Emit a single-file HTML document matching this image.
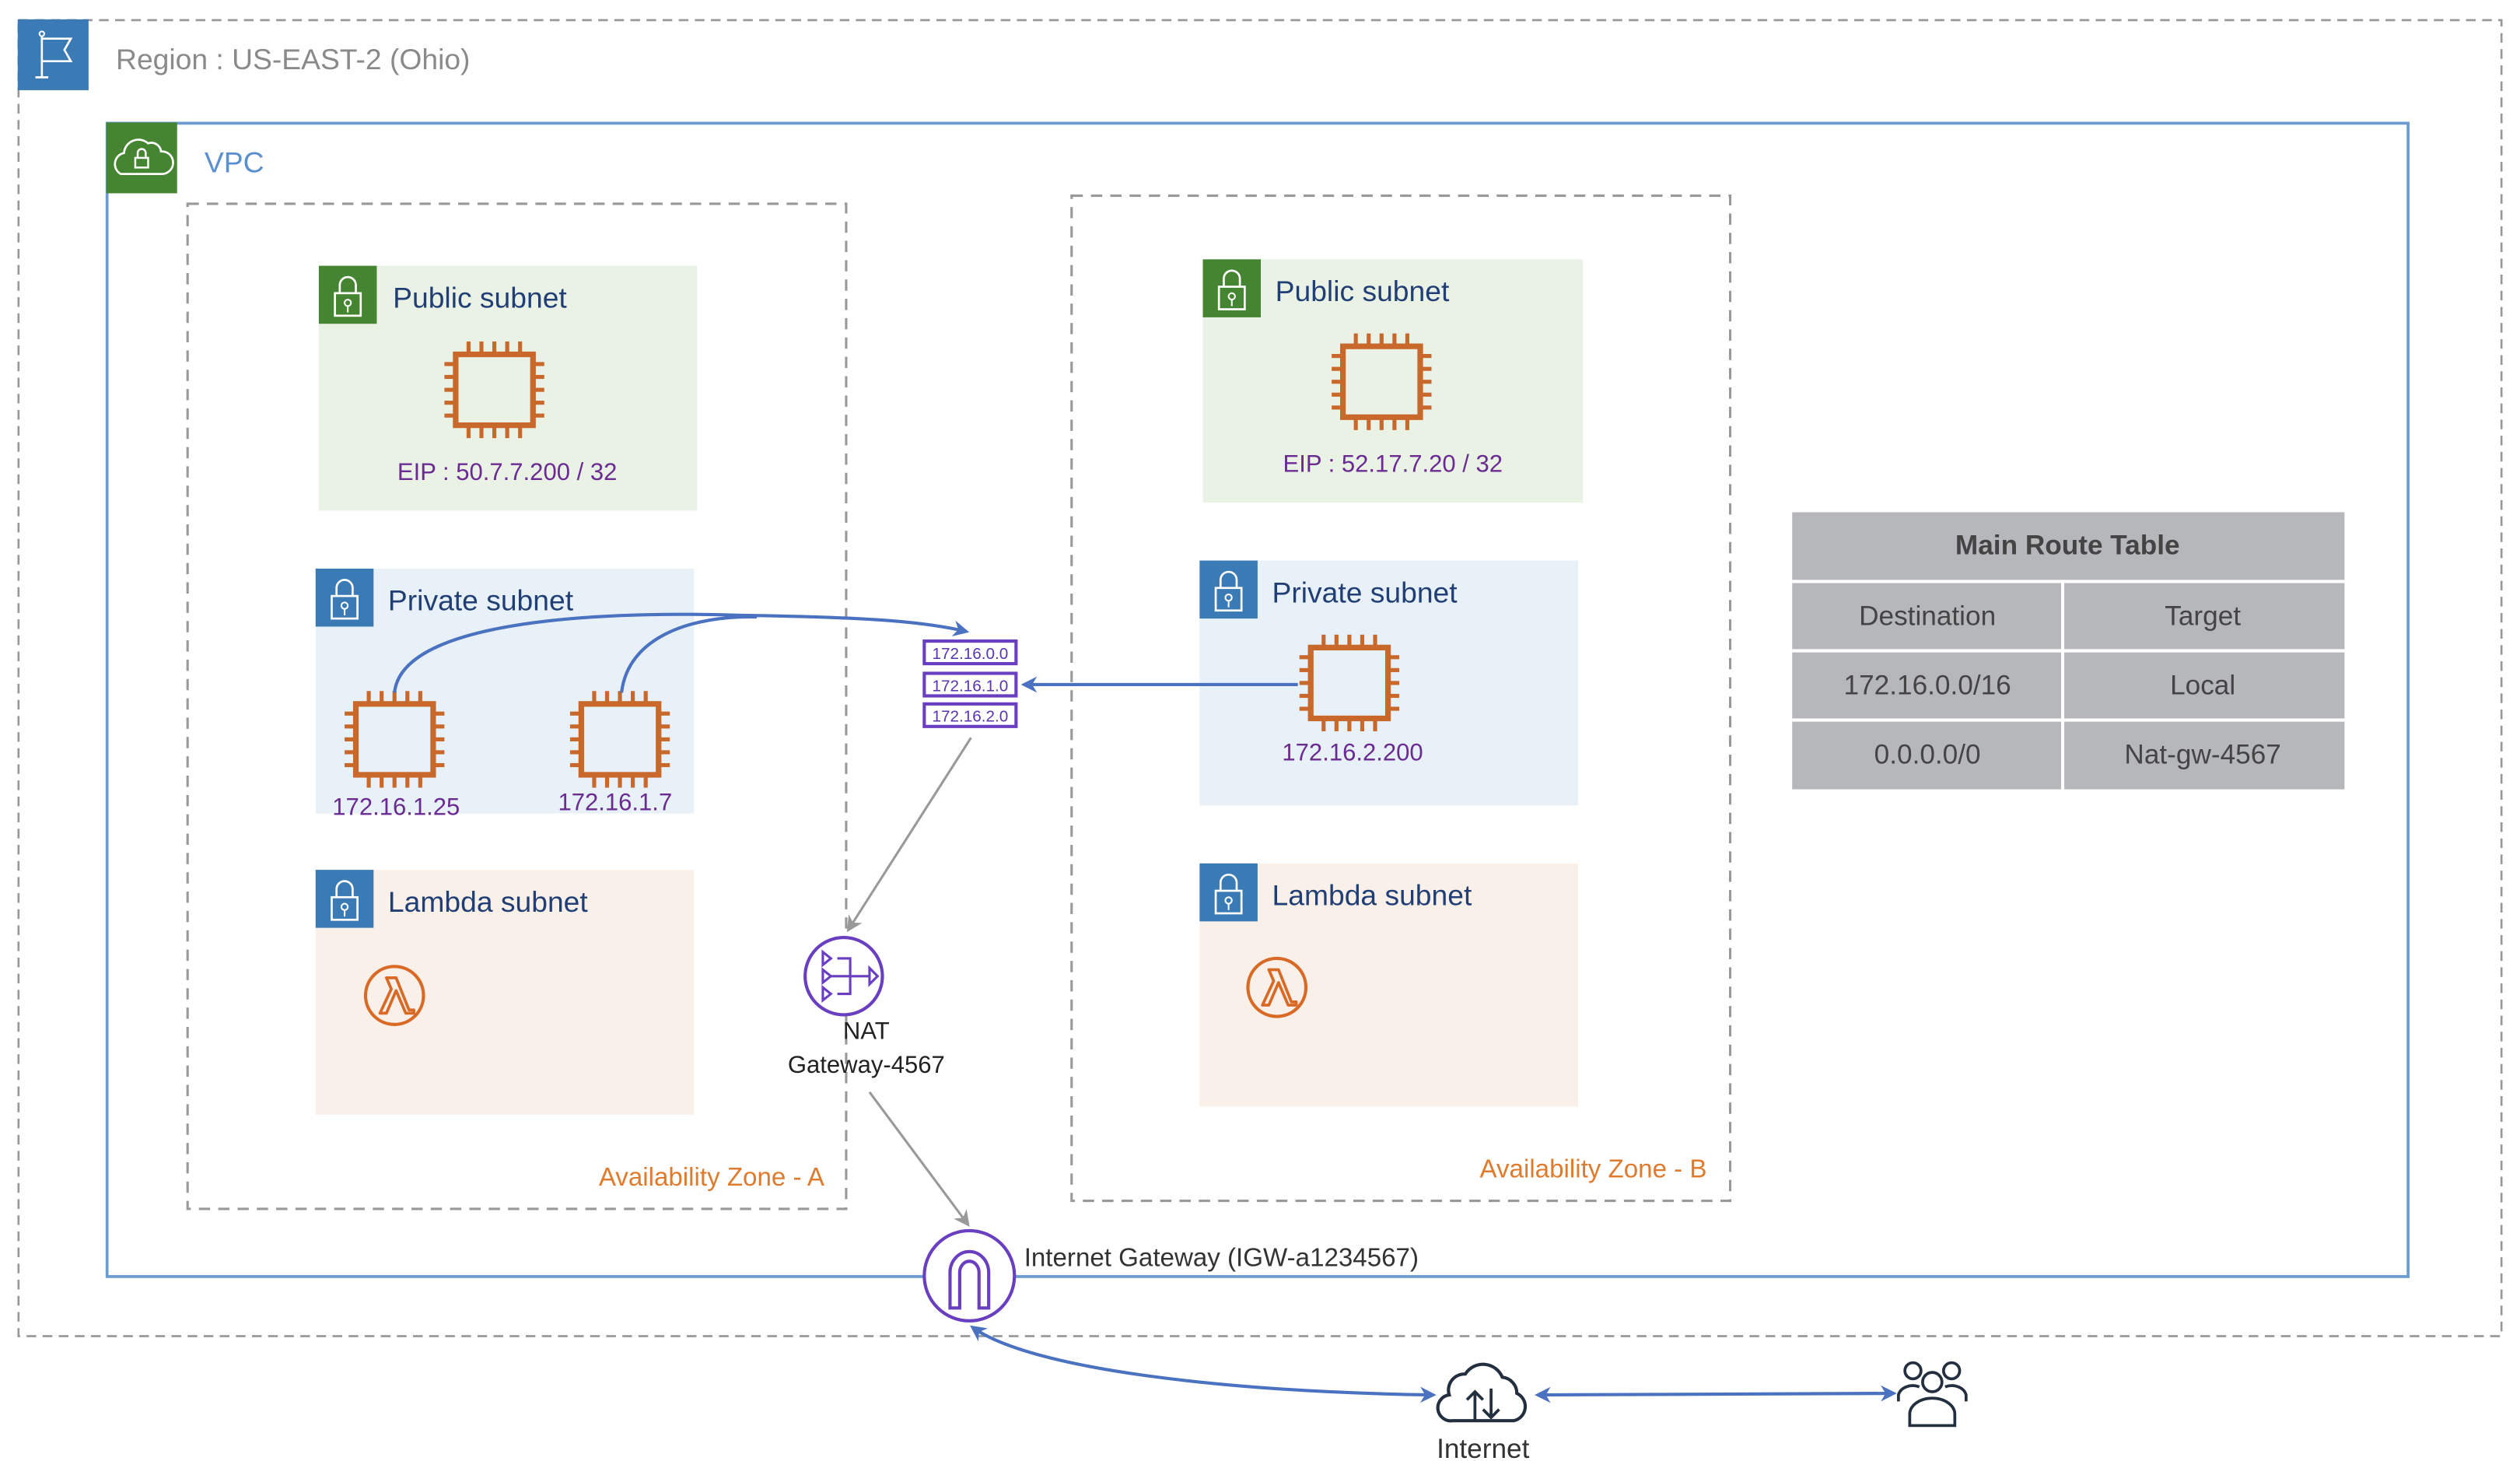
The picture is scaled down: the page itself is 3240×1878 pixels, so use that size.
<!DOCTYPE html>
<html><head><meta charset="utf-8"><style>
html,body{margin:0;padding:0;background:#fff;}
svg{display:block;}
text{font-family:"Liberation Sans","DejaVu Sans",sans-serif;}
</style></head><body>
<svg width="3240" height="1878" viewBox="0 0 1565 907" preserveAspectRatio="none" xmlns="http://www.w3.org/2000/svg">
<defs>
<g id="chip">
<rect x="-24" y="-22" width="48" height="44" fill="none" stroke="#c8692b" stroke-width="3.5"/>
<g stroke="#c8692b" stroke-width="2.5">
<line x1="-16" y1="-22" x2="-16" y2="-30"/><line x1="-8" y1="-22" x2="-8" y2="-30"/><line x1="0" y1="-22" x2="0" y2="-30"/><line x1="8" y1="-22" x2="8" y2="-30"/><line x1="16" y1="-22" x2="16" y2="-30"/>
<line x1="-16" y1="22" x2="-16" y2="30"/><line x1="-8" y1="22" x2="-8" y2="30"/><line x1="0" y1="22" x2="0" y2="30"/><line x1="8" y1="22" x2="8" y2="30"/><line x1="16" y1="22" x2="16" y2="30"/>
<line x1="-24" y1="-16" x2="-31" y2="-16"/><line x1="-24" y1="-8" x2="-31" y2="-8"/><line x1="-24" y1="0" x2="-31" y2="0"/><line x1="-24" y1="8" x2="-31" y2="8"/><line x1="-24" y1="16" x2="-31" y2="16"/>
<line x1="24" y1="-16" x2="31" y2="-16"/><line x1="24" y1="-8" x2="31" y2="-8"/><line x1="24" y1="0" x2="31" y2="0"/><line x1="24" y1="8" x2="31" y2="8"/><line x1="24" y1="16" x2="31" y2="16"/>
</g>
</g>
<g id="lock">
<rect x="-8" y="-2" width="16" height="14" fill="none" stroke="#fff" stroke-width="1.3"/>
<path d="M-5,-2 V-7 A5,5 0 0 1 5,-7 V-2" fill="none" stroke="#fff" stroke-width="1.3"/>
<circle cx="0" cy="4" r="2" fill="none" stroke="#fff" stroke-width="1"/>
<line x1="0" y1="6" x2="0" y2="10" stroke="#fff" stroke-width="1"/>
</g>
<g id="lambda">
<circle cx="0" cy="0" r="18" fill="none" stroke="#d86a26" stroke-width="2"/>
<path d="M-9,11 L-2,-4 L-5,-11 L1,-11 L9,9 L12,9 L12,11 L7,11 L1,-3 L-5,11 Z" fill="none" stroke="#d86a26" stroke-width="1.8" stroke-linejoin="round"/>
</g>
<marker id="ab" markerWidth="10" markerHeight="10" refX="8" refY="5" orient="auto" markerUnits="userSpaceOnUse"><path d="M0,0 L10,5 L0,10 L3,5 Z" fill="#4a72c0"/></marker>
<marker id="abs" markerWidth="10" markerHeight="10" refX="2" refY="5" orient="auto" markerUnits="userSpaceOnUse"><path d="M10,0 L0,5 L10,10 L7,5 Z" fill="#4a72c0"/></marker>
<marker id="ag" markerWidth="10" markerHeight="10" refX="8" refY="5" orient="auto" markerUnits="userSpaceOnUse"><path d="M0,0 L10,5 L0,10 L3,5 Z" fill="#999"/></marker>
</defs>

<!-- Region -->
<rect x="11.5" y="12.5" width="1542" height="817" fill="none" stroke="#999" stroke-width="1.3" stroke-dasharray="6,4"/>
<rect x="11" y="12" width="44" height="44" fill="#3a7ab5"/>
<path d="M22,48 H30 M26,48 V22 M26,24 H44 L40,31 L44,38 H26" fill="none" stroke="#fff" stroke-width="1.3"/>
<circle cx="26" cy="21" r="1.5" fill="none" stroke="#fff" stroke-width="1"/>
<text x="72" y="43" font-size="18" fill="#8a8a8a">Region : US-EAST-2 (Ohio)</text>

<!-- VPC -->
<rect x="66.5" y="76.5" width="1429" height="716" fill="none" stroke="#6b9bd1" stroke-width="1.8"/>
<rect x="66" y="76" width="44" height="44" fill="#458531"/>
<path d="M75,108 H101 A7,7 0 0 0 100,94 A6,6 0 0 0 92,89 A9,9 0 0 0 77,95 A7,7 0 0 0 75,108 Z" fill="none" stroke="#fff" stroke-width="1.3"/>
<rect x="84" y="98" width="8" height="6" fill="none" stroke="#fff" stroke-width="1.2"/>
<path d="M85.5,98 V95 A2.5,2.5 0 0 1 90.5,95 V98" fill="none" stroke="#fff" stroke-width="1.2"/>
<text x="127" y="107" font-size="18" fill="#5a8fd0">VPC</text>

<!-- AZ boxes -->
<rect x="116.5" y="126.5" width="409" height="624" fill="none" stroke="#999" stroke-width="1.5" stroke-dasharray="7,5"/>
<rect x="665.5" y="121.5" width="409" height="624" fill="none" stroke="#999" stroke-width="1.5" stroke-dasharray="7,5"/>
<text x="512" y="736" font-size="16" fill="#e07b2e" text-anchor="end">Availability Zone - A</text>
<text x="1060" y="731" font-size="16" fill="#e07b2e" text-anchor="end">Availability Zone - B</text>

<!-- AZ A subnets -->
<rect x="198" y="165" width="235" height="152" fill="#eaf2e6"/>
<rect x="198" y="165" width="36" height="36" fill="#458531"/>
<use href="#lock" x="216" y="184"/>
<text x="244" y="191" font-size="18" fill="#213f74">Public subnet</text>
<use href="#chip" x="307" y="242"/>
<text x="315" y="298" font-size="15" fill="#6a2c91" text-anchor="middle">EIP : 50.7.7.200 / 32</text>

<rect x="196" y="353" width="235" height="152" fill="#e8f1f8"/>
<rect x="196" y="353" width="36" height="36" fill="#3a7ab5"/>
<use href="#lock" x="214" y="372"/>
<text x="241" y="379" font-size="18" fill="#213f74">Private subnet</text>
<use href="#chip" x="245" y="459"/>
<use href="#chip" x="385" y="459"/>
<text x="246" y="506" font-size="15" fill="#6a2c91" text-anchor="middle">172.16.1.25</text>
<text x="382" y="503" font-size="15" fill="#6a2c91" text-anchor="middle">172.16.1.7</text>

<rect x="196" y="540" width="235" height="152" fill="#faf0ea"/>
<rect x="196" y="540" width="36" height="36" fill="#3a7ab5"/>
<use href="#lock" x="214" y="559"/>
<text x="241" y="566" font-size="18" fill="#213f74">Lambda subnet</text>
<use href="#lambda" x="245" y="618"/>

<!-- AZ B subnets -->
<rect x="747" y="161" width="236" height="151" fill="#eaf2e6"/>
<rect x="747" y="161" width="36" height="36" fill="#458531"/>
<use href="#lock" x="765" y="180"/>
<text x="792" y="187" font-size="18" fill="#213f74">Public subnet</text>
<use href="#chip" x="858" y="237"/>
<text x="865" y="293" font-size="15" fill="#6a2c91" text-anchor="middle">EIP : 52.17.7.20 / 32</text>

<rect x="745" y="348" width="235" height="152" fill="#e8f1f8"/>
<rect x="745" y="348" width="36" height="36" fill="#3a7ab5"/>
<use href="#lock" x="763" y="367"/>
<text x="790" y="374" font-size="18" fill="#213f74">Private subnet</text>
<use href="#chip" x="838" y="424"/>
<text x="840" y="472" font-size="15" fill="#6a2c91" text-anchor="middle">172.16.2.200</text>

<rect x="745" y="536" width="235" height="151" fill="#faf0ea"/>
<rect x="745" y="536" width="36" height="36" fill="#3a7ab5"/>
<use href="#lock" x="763" y="555"/>
<text x="790" y="562" font-size="18" fill="#213f74">Lambda subnet</text>
<use href="#lambda" x="793" y="613"/>

<!-- Route table icon -->
<g fill="#fff" stroke="#6a3ec0" stroke-width="2">
<rect x="574" y="398" width="57" height="14"/>
<rect x="574" y="418" width="57" height="14"/>
<rect x="574" y="437" width="57" height="14"/>
</g>
<g font-size="10" fill="#5a35b0" text-anchor="middle">
<text x="602.5" y="409">172.16.0.0</text>
<text x="602.5" y="429">172.16.1.0</text>
<text x="602.5" y="448">172.16.2.0</text>
</g>

<!-- connectors -->
<path d="M245,430 C250,380 400,380 460,382 C530,383 570,385 600,392" fill="none" stroke="#4a72c0" stroke-width="2" marker-end="url(#ab)"/>
<path d="M386,430 C390,395 430,382 470,383" fill="none" stroke="#4a72c0" stroke-width="2"/>
<line x1="806" y1="425" x2="636" y2="425" stroke="#4a72c0" stroke-width="2" marker-end="url(#ab)"/>
<line x1="603" y1="458" x2="527" y2="577" stroke="#999" stroke-width="1.5" marker-end="url(#ag)"/>
<line x1="540" y1="678" x2="601" y2="760" stroke="#999" stroke-width="1.5" marker-end="url(#ag)"/>

<!-- NAT -->
<circle cx="524" cy="606" r="24" fill="#fff" stroke="#6a3ec0" stroke-width="2"/>
<g fill="none" stroke="#6a3ec0" stroke-width="1.5">
<path d="M511,591 L516,595 L511,599 Z M511,602 L516,606 L511,610 Z M511,613 L516,617 L511,621 Z"/>
<path d="M520,595 H528 V617 H520 M516,606 H540"/>
<path d="M540,601 L545,606 L540,611 Z"/>
</g>
<text x="538" y="645" font-size="15" fill="#222" text-anchor="middle">NAT</text>
<text x="538" y="666" font-size="15" fill="#222" text-anchor="middle">Gateway-4567</text>

<!-- IGW -->
<circle cx="602" cy="792" r="28" fill="#fff" stroke="#6a3ec0" stroke-width="2"/>
<path d="M590,812 V790 A12,13 0 0 1 614,790 V812 H608 V790 A6,7 0 0 0 596,790 V812 Z" fill="none" stroke="#6a3ec0" stroke-width="2"/>
<text x="636" y="786" font-size="16" fill="#333">Internet Gateway (IGW-a1234567)</text>

<!-- Route table -->
<rect x="1113" y="318" width="343" height="172" fill="#b5b7ba"/>
<g stroke="#fff" stroke-width="2">
<line x1="1113" y1="361" x2="1456" y2="361"/>
<line x1="1113" y1="404" x2="1456" y2="404"/>
<line x1="1113" y1="447" x2="1456" y2="447"/>
<line x1="1281" y1="361" x2="1281" y2="490"/>
</g>
<text x="1284" y="344" font-size="17" font-weight="bold" fill="#444" text-anchor="middle">Main Route Table</text>
<g font-size="17" fill="#444" text-anchor="middle">
<text x="1197" y="388">Destination</text><text x="1368" y="388">Target</text>
<text x="1197" y="431">172.16.0.0/16</text><text x="1368" y="431">Local</text>
<text x="1197" y="474">0.0.0.0/0</text><text x="1368" y="474">Nat-gw-4567</text>
</g>

<!-- Internet -->
<path d="M604,824 C640,850 760,864 890,866" fill="none" stroke="#4a72c0" stroke-width="2" marker-start="url(#abs)" marker-end="url(#ab)"/>
<line x1="955" y1="866" x2="1176" y2="865" stroke="#4a72c0" stroke-width="2" marker-start="url(#abs)" marker-end="url(#ab)"/>
<path d="M902,882 H940 A9,9 0 0 0 942,865 A10,10 0 0 0 933,855 A13,13 0 0 0 910,853 A10,10 0 0 0 900,866 A8,8 0 0 0 902,882 Z" fill="none" stroke="#232f3e" stroke-width="2"/>
<path d="M916,882 V864 M911,869 L916,864 L921,869 M926,862 V880 M921,875 L926,880 L931,875" fill="none" stroke="#232f3e" stroke-width="1.8"/>
<text x="921" y="905" font-size="17" fill="#333" text-anchor="middle">Internet</text>

<!-- users -->
<g fill="none" stroke="#232f3e" stroke-width="1.8">
<circle cx="1200" cy="858" r="6"/>
<path d="M1186,885 V878 A14,10 0 0 1 1214,878 V885 Z"/>
<circle cx="1188" cy="851" r="5"/>
<circle cx="1212" cy="851" r="5"/>
<path d="M1179,870 V866 A9,7 0 0 1 1192,861"/>
<path d="M1221,870 V866 A9,7 0 0 0 1208,861"/>
</g>
</svg>
</body></html>
